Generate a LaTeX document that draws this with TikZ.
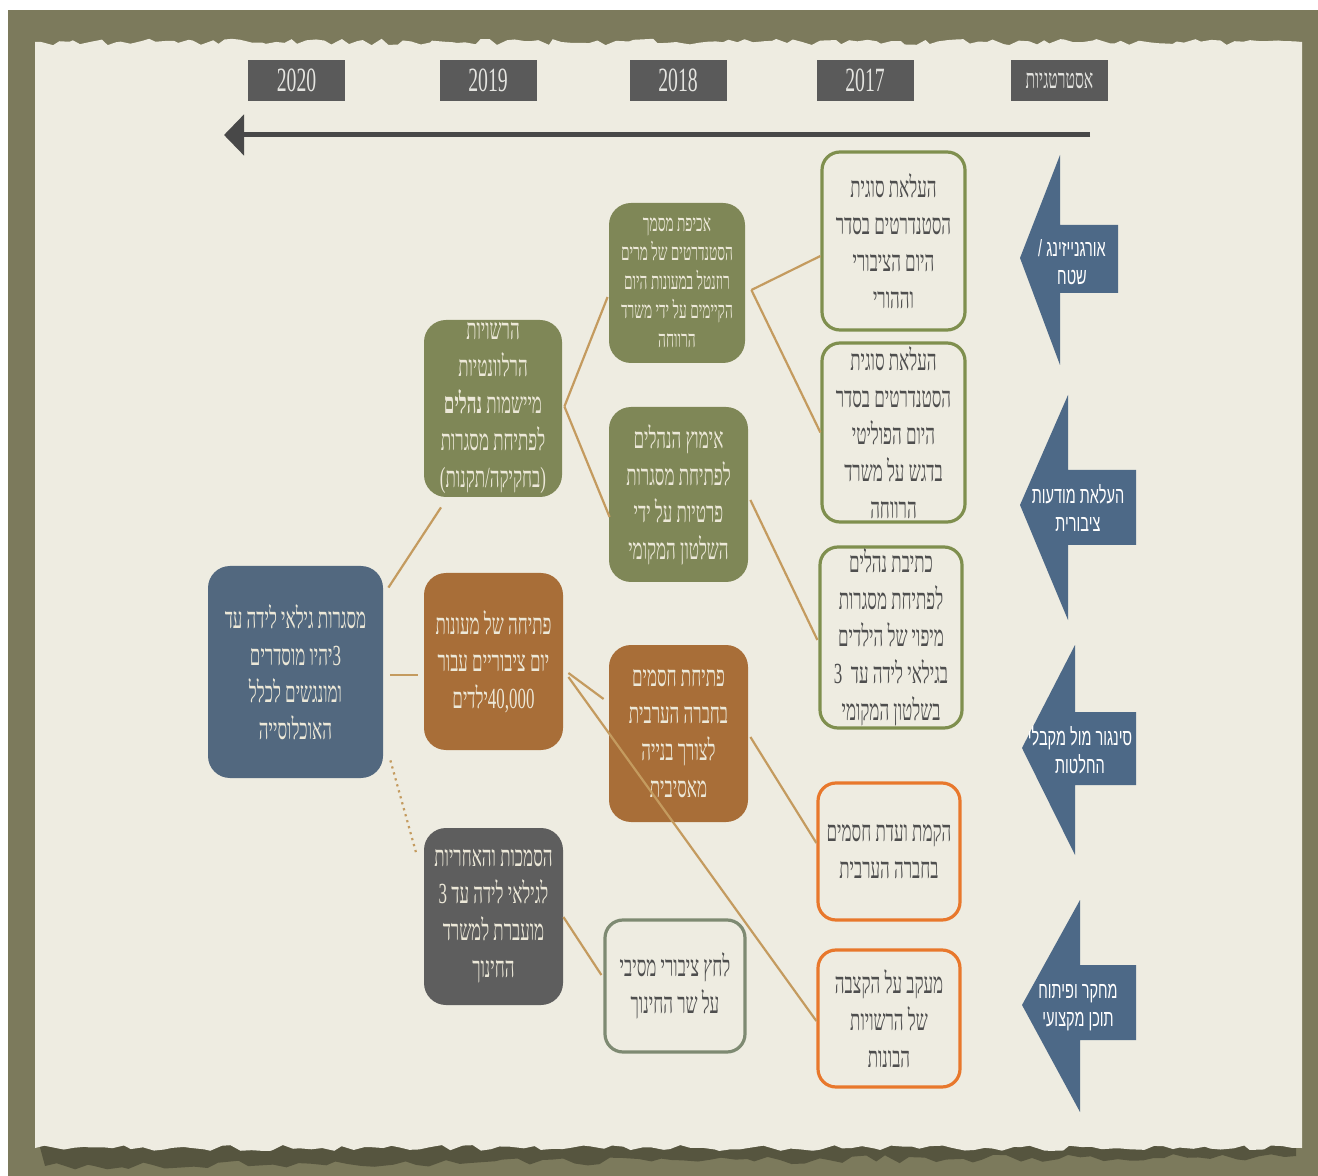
\documentclass[tikz,border=0pt]{standalone}
\usepackage{fontspec}
\usepackage{xcolor}
\usepackage{tikz}
\usetikzlibrary{arrows.meta,decorations.pathmorphing}
\TeXXeTstate=1
\newfontfamily\hebserif[Script=Hebrew,FakeStretch=0.58]{Liberation Serif}
\newfontfamily\hebsans[Script=Hebrew,FakeStretch=0.62]{Liberation Sans}
\newcommand\rtl[1]{\beginR #1\endR}
\definecolor{frameOlive}{HTML}{7C7A5C}
\definecolor{tornShadow}{HTML}{56553F}
\definecolor{paperCream}{HTML}{EEECE1}
\definecolor{yearGray}{HTML}{5A5A5A}
\definecolor{yearText}{HTML}{E4E4E0}
\definecolor{timelineGray}{HTML}{484848}
\definecolor{stratBlue}{HTML}{4D6987}
\definecolor{goalBlue}{HTML}{52687F}
\definecolor{stepGreen}{HTML}{7F8757}
\definecolor{stepOrange}{HTML}{A86E38}
\definecolor{stepGray}{HTML}{5E5E5E}
\definecolor{lineGreen}{HTML}{7F8F4E}
\definecolor{lineOrange}{HTML}{E8782C}
\definecolor{lineSage}{HTML}{7E8A72}
\definecolor{linkTan}{HTML}{C49B5F}
\definecolor{boxText}{HTML}{ECE8D8}
\definecolor{outlineText}{HTML}{4E4E4E}

\begin{document}
\begin{tikzpicture}[x=0.5pt,y=-0.5pt,
    yearbox/.style={fill=yearGray, text=yearText, minimum width=48.5pt, minimum height=20.5pt,
      inner sep=0pt, font=\hebserif\fontsize{17}{19}\selectfont},
    filledbox/.style={fill=#1, text=boxText, rounded corners=11pt, inner sep=0pt, align=center,
      font=\hebserif\fontsize{14.6}{18.5}\selectfont},
    outlinebox/.style={draw=#1, line width=1.6pt, fill=paperCream, text=outlineText, rounded corners=9pt,
      inner sep=0pt, align=center, font=\hebserif\fontsize{14.6}{18.5}\selectfont},
    stratarrow/.style={fill=stratBlue},
    stratlabel/.style={text=white, align=center, inner sep=0pt, font=\hebsans\fontsize{11.7}{14}\selectfont},
    link/.style={linkTan, line width=1.1pt},
    timeline/.style={timelineGray, line width=2.5pt, -{Triangle[length=10pt,width=20pt]}}]
  \useasboundingbox (0,0) rectangle (1318,1176);
  \pgfmathsetseed{7}
  \fill[frameOlive] (8,10) rectangle (1318,1176);
  \fill[tornShadow] (38,1140) -- (1296,1140) -- (1296,1156)
    decorate[decoration={random steps,segment length=6pt,amplitude=2pt}] {-- (45,1166)} -- cycle;
  \fill[paperCream] (35,1148) -- (35,42)
    decorate[decoration={random steps,segment length=4pt,amplitude=1.6pt}] {-- (1302,42)}
    -- (1302,1148)
    decorate[decoration={random steps,segment length=5pt,amplitude=1.5pt}] {-- (35,1148)} -- cycle;

  \node[yearbox] (y2020) at (296.5,80.5) {2020};
  \node[yearbox] (y2019) at (488,80.5) {2019};
  \node[yearbox] (y2018) at (678,80.5) {2018};
  \node[yearbox] (y2017) at (865,80.5) {2017};
  \node[yearbox, font=\hebserif\fontsize{13.5}{15}\selectfont] (ystrat) at (1059.5,80.5) {\rtl{אסטרטגיות}};

  \coordinate (tl start) at (1090,135);
  \coordinate (tl end) at (224,135);
  \draw[timeline] (tl start) -- (tl end);

  \fill[stratarrow] (1020,258) -- (1060,155) -- (1060,225) -- (1118,225) -- (1118,293) -- (1060,293) -- (1060,365) -- cycle;
  \node[stratlabel] (org) at (1072,262) {\rtl{אורגנייזינג /}\\\rtl{שטח}};
  \fill[stratarrow] (1020,505) -- (1068,395) -- (1068,470) -- (1136,470) -- (1136,545) -- (1068,545) -- (1068,620) -- cycle;
  \node[stratlabel] (aware) at (1078,508) {\rtl{העלאת מודעות}\\\rtl{ציבורית}};
  \fill[stratarrow] (1022,748) -- (1075,645) -- (1075,712) -- (1136,712) -- (1136,785) -- (1075,785) -- (1075,855) -- cycle;
  \node[stratlabel] (advocacy) at (1080,750) {\rtl{סינגור מול מקבלי}\\\rtl{החלטות}};
  \fill[stratarrow] (1022,1005) -- (1080,900) -- (1080,965) -- (1136,965) -- (1136,1040) -- (1080,1040) -- (1080,1112) -- cycle;
  \node[stratlabel] (research) at (1078,1008) {\rtl{מחקר ופיתוח}\\\rtl{תוכן מקצועי}};

  \node[filledbox=goalBlue, minimum width=87.5pt, minimum height=106pt] (goal) at (295.5,672)
    {\rtl{מסגרות גילאי לידה עד}\\\rtl{\beginL 3\endL יהיו מוסדרים}\\\rtl{ומונגשים לכלל}\\\rtl{האוכלוסייה}};

  \node[filledbox=stepGreen, minimum width=69pt, minimum height=88.5pt] (rules) at (493,408.5)
    {\rtl{הרשויות}\\\rtl{הרלוונטיות}\\\rtl{מיישמות {\bfseries נהלים}}\\\rtl{לפתיחת מסגרות}\\\rtl{(בחקיקה/תקנות)}};
  \node[filledbox=stepOrange, minimum width=69.5pt, minimum height=88.5pt] (daycare) at (493.5,661.5)
    {\rtl{פתיחה של מעונות}\\\rtl{יום ציבוריים עבור}\\\rtl{\beginL 40,000\endL ילדים}};
  \node[filledbox=stepGray, minimum width=69.5pt, minimum height=88.5pt] (ministry) at (493.5,916.5)
    {\rtl{הסמכות והאחריות}\\\rtl{לגילאי לידה עד \beginL 3\endL}\\\rtl{מועברת למשרד}\\\rtl{החינוך}};

  \node[filledbox=stepGreen, minimum width=68pt, minimum height=80pt, font=\hebserif\fontsize{11.8}{14.5}\selectfont] (enforce) at (677,283)
    {\rtl{אכיפת מסמך}\\\rtl{הסטנדרטים של מרים}\\\rtl{רוזנטל במעונות היום}\\\rtl{הקיימים על ידי משרד}\\\rtl{הרווחה}};
  \node[filledbox=stepGreen, minimum width=69.5pt, minimum height=87.5pt] (adopt) at (678.5,494.5)
    {\rtl{אימוץ הנהלים}\\\rtl{לפתיחת מסגרות}\\\rtl{פרטיות על ידי}\\\rtl{השלטון המקומי}};
  \node[filledbox=stepOrange, minimum width=69.5pt, minimum height=88.5pt] (barriers) at (678.5,733.5)
    {\rtl{פתיחת חסמים}\\\rtl{בחברה הערבית}\\\rtl{לצורך בנייה}\\\rtl{מאסיבית}};
  \node[outlinebox=lineSage, minimum width=70pt, minimum height=66pt] (pressure) at (675,986)
    {\rtl{לחץ ציבורי מסיבי}\\\rtl{על שר החינוך}};

  \node[outlinebox=lineGreen, minimum width=71.5pt, minimum height=89pt] (agenda) at (893.5,241)
    {\rtl{העלאת סוגית}\\\rtl{הסטנדרטים בסדר}\\\rtl{היום הציבורי}\\\rtl{וההורי}};
  \node[outlinebox=lineGreen, minimum width=71.5pt, minimum height=89.5pt] (politics) at (893.5,432.5)
    {\rtl{העלאת סוגית}\\\rtl{הסטנדרטים בסדר}\\\rtl{היום הפוליטי}\\\rtl{בדגש על משרד}\\\rtl{הרווחה}};
  \node[outlinebox=lineGreen, minimum width=71pt, minimum height=90.5pt] (mapping) at (891,637.5)
    {\rtl{כתיבת נהלים}\\\rtl{לפתיחת מסגרות}\\\rtl{מיפוי של הילדים}\\\rtl{בגילאי לידה עד\ \ \beginL 3\endL}\\\rtl{בשלטון המקומי}};
  \node[outlinebox=lineOrange, minimum width=71pt, minimum height=68.5pt] (committee) at (889,851.5)
    {\rtl{הקמת ועדת חסמים}\\\rtl{בחברה הערבית}};
  \node[outlinebox=lineOrange, minimum width=71pt, minimum height=68.5pt] (tracking) at (889,1018.5)
    {\rtl{מעקב על הקצבה}\\\rtl{של הרשויות}\\\rtl{הבונות}};

  \draw[link] ([xshift=2.5pt,yshift=-11pt]goal.north east) -- ([xshift=-26pt,yshift=-5pt]rules.south);
  \draw[link] ([xshift=3.5pt,yshift=-1.5pt]goal.east) -- ([xshift=-3pt,yshift=-6.75pt]daycare.west);
  \draw[link, dotted] ([xshift=3.5pt,yshift=9pt]goal.south east) -- ([xshift=-3.5pt,yshift=-13.5pt]ministry.north west);
  \draw[link] ([xshift=1pt,yshift=1pt]rules.east) -- ([xshift=-0.5pt,yshift=-7pt]enforce.west);
  \draw[link] ([xshift=1pt,yshift=1pt]rules.east) -- ([xshift=0.5pt,yshift=-11.25pt]adopt.west);
  \draw[link] ([xshift=3pt,yshift=-3.5pt]enforce.east) -- ([yshift=-7.5pt]agenda.west);
  \draw[link] ([xshift=3pt,yshift=-3.5pt]enforce.east) -- (politics.west);
  \draw[link] ([xshift=1pt,yshift=-2.75pt]adopt.east) -- ([xshift=-0.5pt,yshift=-1.25pt]mapping.west);
  \draw[link] ([xshift=2.5pt,yshift=-5.75pt]daycare.east) -- ([xshift=-2.5pt,yshift=17.25pt]barriers.west);
  \draw[link] ([xshift=2.5pt,yshift=-7.75pt]daycare.east) -- ([yshift=-1.25pt]tracking.west);
  \draw[link] ([xshift=1pt,yshift=-1.75pt]barriers.east) -- ([yshift=4.25pt]committee.west);
  \draw[link] ([yshift=-0.25pt]ministry.east) -- ([xshift=-1pt,yshift=5.5pt]pressure.west);
\end{tikzpicture}
\end{document}
